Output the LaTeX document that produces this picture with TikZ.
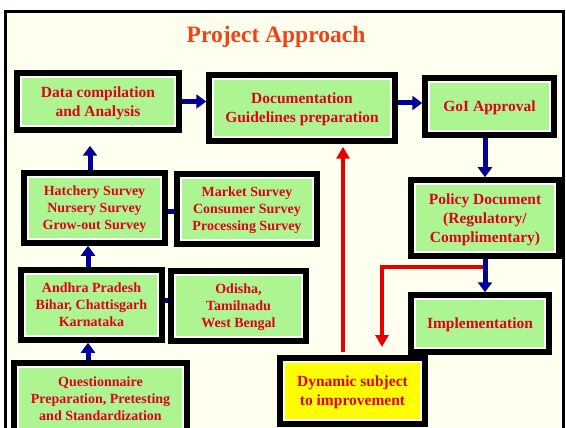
\documentclass[tikz,border=0pt]{standalone}
\usepackage{fontspec}
\setmainfont{Liberation Serif}
\usetikzlibrary{arrows.meta,positioning}
\definecolor{paGreen}{HTML}{ADF590}
\definecolor{paYellow}{HTML}{FFFF00}
\definecolor{paPaper}{HTML}{FFFFF0}
\definecolor{paRed}{HTML}{E0001A}
\definecolor{paTitle}{HTML}{EE4415}
\definecolor{paBlue}{HTML}{000099}
\definecolor{paLine}{HTML}{E60000}
\tikzset{
  box/.style={
    rectangle,
    draw=white,
    line width=1.5pt,
    fill=paGreen,
    preaction={draw=black, line width=13.5pt},
    align=center,
    text=paRed,
    font=\fontsize{15.5}{19}\selectfont\bfseries,
    text depth=0pt,
    inner sep=0pt,
    outer sep=6.75pt
  },
  smallbox/.style={box, font=\fontsize{14}{17}\selectfont\bfseries},
  dynbox/.style={box, fill=paYellow},
  arrow/.style={-{Triangle[length=10pt,width=14pt]}, line width=5pt, draw=paBlue},
  link/.style={line width=5pt, draw=paBlue},
  redarrow/.style={-{Triangle[length=12pt,width=13pt]}, line width=4pt, draw=paLine}
}
\begin{document}
\begin{tikzpicture}[x=1pt, y=-1pt]
  \clip (0,0) rectangle (566,428);
  \fill[white] (0,0) rectangle (566,428);
  \filldraw[fill=paPaper, draw=black, line width=2.5pt] (5.5,11.5) rectangle (563.5,460);
  \node[text=paTitle, font=\fontsize{23.5}{28}\selectfont\bfseries] (title) at (276,37) {Project Approach};
  % top row
  \node[box, minimum width=154pt, minimum height=49pt] (data) at (98,101.5) {Data compilation\\and Analysis};
  \node[box, minimum width=178pt, minimum height=58pt] (doc) at (302,108) {Documentation\\Guidelines preparation};
  \node[box, minimum width=121pt, minimum height=49pt] (goi) at (489.5,106.5) {GoI Approval};
  % right column
  \node[box, minimum width=140pt, minimum height=68pt] (policy) at (485,218) {Policy Document\\(Regulatory/\\Complimentary)};
  \node[box, minimum width=130pt, minimum height=49pt] (impl) at (480,323.5) {Implementation};
  \node[dynbox, minimum width=137pt, minimum height=58pt] (dyn) at (352.5,391) {Dynamic subject\\to improvement};
  % surveys
  \node[smallbox, minimum width=133pt, minimum height=62pt] (hatch) at (94.5,208) {Hatchery Survey\\Nursery Survey\\Grow-out Survey};
  \node[smallbox, minimum width=132pt, minimum height=62pt] (market) at (247,209) {Market Survey\\Consumer Survey\\Processing Survey};
  \node[smallbox, minimum width=133pt, minimum height=62pt] (andhra) at (91.5,305) {Andhra Pradesh\\Bihar, Chattisgarh\\Karnataka};
  \node[smallbox, minimum width=127pt, minimum height=62pt] (odisha) at (238.5,306) {Odisha,\\Tamilnadu\\West Bengal};
  \node[smallbox, minimum width=165pt, minimum height=64pt] (quest) at (100.5,399) {Questionnaire\\Preparation, Pretesting\\and Standardization};
  % feedback loop
  \coordinate (split) at (485,267);
  \coordinate (drop) at (382,347);
  \coordinate (rise) at (343,352);
  \draw[redarrow] (split) -| (drop);
  \draw[redarrow] (rise) -- ([yshift=-3pt]rise |- doc.south);
  % flow
  \draw[arrow] (data.east) -- (data.east -| doc.west);
  \draw[arrow] ([yshift=3.5pt]goi.west -| doc.east) -- ([yshift=3.5pt]goi.west);
  \draw[arrow] (policy.north |- goi.south) -- (policy.north);
  \draw[arrow] (policy.south) -- (policy.south |- impl.north);
  \draw[arrow] ([xshift=-3.5pt]quest.north -| andhra.north) -- ([xshift=-3.5pt]andhra.south);
  \draw[arrow] ([xshift=-3.5pt]andhra.north) -- ([xshift=-3.5pt]andhra.north |- hatch.south);
  \draw[arrow] ([xshift=-4.5pt]hatch.north) -- ([xshift=-4.5pt,yshift=-13pt]hatch.north |- data.south);
  \draw[link] ([yshift=-3pt]hatch.east) -- ([yshift=-3pt]hatch.east -| market.west);
  \draw[link] ([yshift=5pt]andhra.east) -- ([yshift=5pt]andhra.east -| odisha.west);
\end{tikzpicture}
\end{document}
